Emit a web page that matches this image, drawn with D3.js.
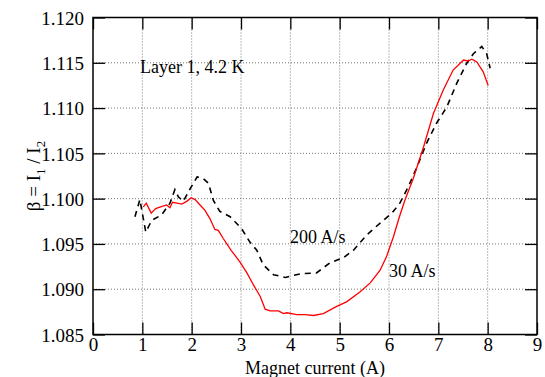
<!DOCTYPE html>
<html><head><meta charset="utf-8">
<script src="https://cdn.jsdelivr.net/npm/d3@7"></script>
</head><body style="margin:0;background:#fff"><svg id="c" width="545" height="377" style="display:block" font-family="Liberation Serif"></svg>
<script>
const xTicks = [0,1,2,3,4,5,6,7,8,9];
const yTicks = [1.085,1.090,1.095,1.100,1.105,1.110,1.115,1.120];
const x30 = [1.02,1.08,1.18,1.27,1.37,1.49,1.56,1.61,1.70,1.80,1.90,1.99,2.07,2.17,2.27,2.37,2.47,2.54,2.64,2.80,2.98,3.12,3.25,3.39,3.49,3.59,3.76,3.86,3.93,4.13,4.30,4.47,4.67,4.94,5.14,5.41,5.62,5.82,5.95,6.09,6.20,6.32,6.49,6.70,6.90,7.10,7.30,7.51,7.60,7.68,7.78,7.91,8.01];
const y30 = [1.0991,1.0995,1.0984,1.0989,1.0991,1.0993,1.0990,1.0996,1.0995,1.0994,1.0997,1.1001,1.0999,1.0993,1.0987,1.0978,1.0966,1.0965,1.0956,1.0943,1.0930,1.0918,1.0905,1.0892,1.0878,1.0876,1.0876,1.0873,1.0874,1.0872,1.0872,1.0871,1.0873,1.0881,1.0886,1.0897,1.0907,1.0921,1.0936,1.0958,1.0978,1.0998,1.1022,1.1057,1.1094,1.1120,1.1142,1.1153,1.1152,1.1154,1.1151,1.1140,1.1125];
const x200 = [0.85,0.95,1.07,1.19,1.39,1.56,1.66,1.73,1.83,1.97,2.11,2.24,2.34,2.44,2.57,2.78,3.01,3.18,3.32,3.45,3.66,3.90,4.20,4.53,4.80,5.08,5.28,5.55,5.82,6.06,6.22,6.39,6.56,6.76,6.96,7.17,7.37,7.57,7.71,7.88,7.98,8.05];
const y200 = [1.0980,1.0999,1.0963,1.0976,1.0982,1.0995,1.1010,1.1002,1.0997,1.1011,1.1024,1.1022,1.1017,1.0998,1.0986,1.0980,1.0967,1.0952,1.0943,1.0927,1.0916,1.0913,1.0917,1.0918,1.0929,1.0935,1.0943,1.0960,1.0973,1.0984,1.0995,1.1013,1.1034,1.1061,1.1083,1.1101,1.1127,1.1149,1.1160,1.1168,1.1160,1.1144];

const FONT = "Liberation Serif";
const svg = d3.select("#c");
const L=93,R=537,T=17.5,B=334.5;
const x = d3.scaleLinear().domain([0,9]).range([L,R]);
const y = d3.scaleLinear().domain([1.085,1.120]).range([B,T]);

const g = svg.append("g").attr("stroke","#777").attr("stroke-width",1).attr("stroke-dasharray","1,2");
xTicks.slice(1,-1).forEach(t=>g.append("line").attr("x1",x(t)).attr("x2",x(t)).attr("y1",T).attr("y2",B));
yTicks.slice(1,-1).forEach(t=>g.append("line").attr("x1",L).attr("x2",R).attr("y1",y(t)).attr("y2",y(t)));

const fmtY = d3.format(".3f");
const ax = svg.append("g").attr("transform",`translate(0,${B})`).call(d3.axisBottom(x).tickValues(xTicks).tickSizeInner(-12).tickSizeOuter(0).tickFormat(d3.format("d")));
const axT = svg.append("g").attr("transform",`translate(0,${T})`).call(d3.axisTop(x).tickValues(xTicks).tickSizeInner(-12).tickSizeOuter(0).tickFormat(""));
const ay = svg.append("g").attr("transform",`translate(${L},0)`).call(d3.axisLeft(y).tickValues(yTicks).tickSizeInner(-12).tickSizeOuter(0).tickFormat(fmtY));
const ayR = svg.append("g").attr("transform",`translate(${R},0)`).call(d3.axisRight(y).tickValues(yTicks).tickSizeInner(-12).tickSizeOuter(0).tickFormat(""));
[ax,axT,ay,ayR].forEach(a=>{a.attr("font-family",FONT);a.select(".domain").remove();a.selectAll("line").attr("stroke","#000").attr("stroke-width",1.3);a.selectAll("text").attr("font-family",FONT).attr("font-size",19).attr("fill","#000");});
ax.selectAll("text").attr("y",2).attr("dy","0.75em");
ay.selectAll("text").attr("x",-9).attr("dy","0.35em");

svg.append("rect").attr("x",L).attr("y",T).attr("width",R-L).attr("height",B-T).attr("fill","none").attr("stroke","#000").attr("stroke-width",1.5);

const line = d3.line().x(d=>x(d[0])).y(d=>y(d[1]));
svg.append("path").datum(x200.map((v,i)=>[v,y200[i]])).attr("d",line).attr("fill","none").attr("stroke","#000").attr("stroke-width",1.6).attr("stroke-dasharray","6,5");
svg.append("path").datum(x30.map((v,i)=>[v,y30[i]])).attr("d",line).attr("fill","none").attr("stroke","#ff0000").attr("stroke-width",1.3);

function label(xp,yp,s,t){return svg.append("text").attr("x",xp).attr("y",yp).attr("font-size",s).attr("font-family",FONT).attr("fill","#000").text(t);}
label((L+R)/2,374,18,"Magnet current (A)").attr("text-anchor","middle");
const yl = svg.append("text").attr("transform",`translate(40,${(T+B)/2}) rotate(-90)`).attr("text-anchor","middle").attr("font-size",19).attr("font-family",FONT);
yl.append("tspan").text("β = I");
yl.append("tspan").attr("font-size",13).attr("dy",5).text("1");
yl.append("tspan").attr("dy",-5).text(" / I");
yl.append("tspan").attr("font-size",13).attr("dy",5).text("2");

label(140,73,18,"Layer 1, 4.2 K");
label(290,243,18,"200 A/s");
label(389,277,18,"30 A/s");
</script></body></html>
